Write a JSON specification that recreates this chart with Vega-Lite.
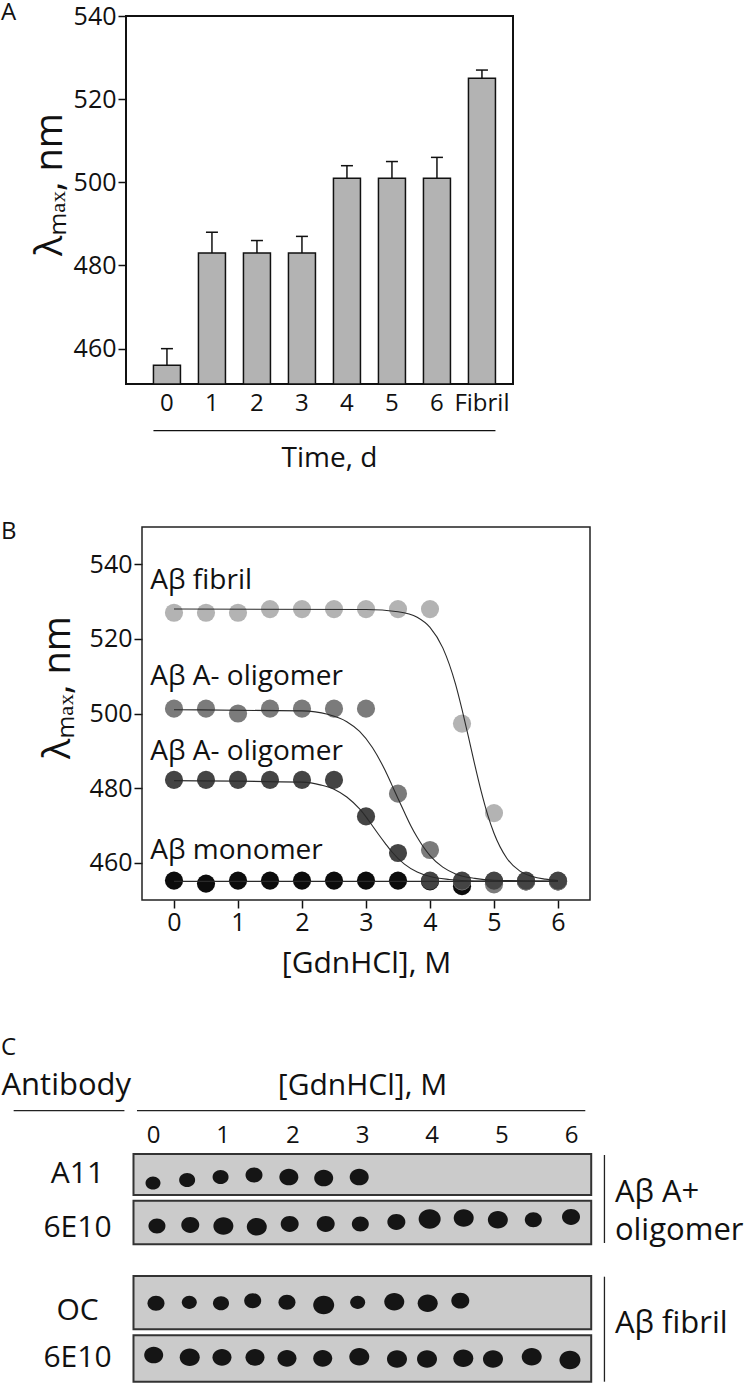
{
  "$schema": "https://vega.github.io/schema/vega-lite/v6.json",
  "background": "white",
  "padding": 0,
  "spacing": 47,
  "config": {
    "font": "Open Sans",
    "view": {"stroke": "#111", "strokeWidth": 1.5},
    "axis": {"grid": false, "labelColor": "#111", "titleColor": "#111", "tickColor": "#111", "domainColor": "#111", "labelFont": "Open Sans", "titleFont": "Open Sans", "titleFontWeight": "normal"},
    "title": {"fontWeight": "normal", "color": "#111", "font": "Open Sans"}
  },
  "datasets": {
    "panelA": [
      {"day": "0", "lambda": 456, "upper": 460},
      {"day": "1", "lambda": 483, "upper": 488},
      {"day": "2", "lambda": 483, "upper": 486},
      {"day": "3", "lambda": 483, "upper": 487},
      {"day": "4", "lambda": 501, "upper": 504},
      {"day": "5", "lambda": 501, "upper": 505},
      {"day": "6", "lambda": 501, "upper": 506},
      {"day": "Fibril", "lambda": 525, "upper": 527}
    ],
    "panelAline": [{"from": "0", "to": "Fibril", "level": 440.3}],
    "panelBframe": [{"conc": -0.5, "conc2": 6.5, "lambda": 450, "lambda2": 550}],
    "panelBpts": [
      {"sample": "monomer", "conc": 0, "lambda": 455.2}, {"sample": "monomer", "conc": 0.5, "lambda": 454.4}, {"sample": "monomer", "conc": 1, "lambda": 455.2}, {"sample": "monomer", "conc": 1.5, "lambda": 455.2}, {"sample": "monomer", "conc": 2, "lambda": 455.2}, {"sample": "monomer", "conc": 2.5, "lambda": 455.2}, {"sample": "monomer", "conc": 3, "lambda": 455.2}, {"sample": "monomer", "conc": 3.5, "lambda": 455.2}, {"sample": "monomer", "conc": 4, "lambda": 455}, {"sample": "monomer", "conc": 4.5, "lambda": 453.7}, {"sample": "monomer", "conc": 5, "lambda": 455}, {"sample": "monomer", "conc": 5.5, "lambda": 455}, {"sample": "monomer", "conc": 6, "lambda": 455},
      {"sample": "fibril", "conc": 0, "lambda": 527}, {"sample": "fibril", "conc": 0.5, "lambda": 527}, {"sample": "fibril", "conc": 1, "lambda": 527}, {"sample": "fibril", "conc": 1.5, "lambda": 528}, {"sample": "fibril", "conc": 2, "lambda": 528}, {"sample": "fibril", "conc": 2.5, "lambda": 528}, {"sample": "fibril", "conc": 3, "lambda": 528}, {"sample": "fibril", "conc": 3.5, "lambda": 528}, {"sample": "fibril", "conc": 4, "lambda": 528}, {"sample": "fibril", "conc": 4.5, "lambda": 497.3}, {"sample": "fibril", "conc": 5, "lambda": 473.3}, {"sample": "fibril", "conc": 5.5, "lambda": 455}, {"sample": "fibril", "conc": 6, "lambda": 455},
      {"sample": "oligomer501", "conc": 0, "lambda": 501.3}, {"sample": "oligomer501", "conc": 0.5, "lambda": 501.3}, {"sample": "oligomer501", "conc": 1, "lambda": 500}, {"sample": "oligomer501", "conc": 1.5, "lambda": 501.3}, {"sample": "oligomer501", "conc": 2, "lambda": 501.3}, {"sample": "oligomer501", "conc": 2.5, "lambda": 501.3}, {"sample": "oligomer501", "conc": 3, "lambda": 501.3}, {"sample": "oligomer501", "conc": 3.5, "lambda": 478.5}, {"sample": "oligomer501", "conc": 4, "lambda": 463.4}, {"sample": "oligomer501", "conc": 4.5, "lambda": 455}, {"sample": "oligomer501", "conc": 5, "lambda": 454.2}, {"sample": "oligomer501", "conc": 5.5, "lambda": 455}, {"sample": "oligomer501", "conc": 6, "lambda": 455},
      {"sample": "oligomer482", "conc": 0, "lambda": 482.2}, {"sample": "oligomer482", "conc": 0.5, "lambda": 482.2}, {"sample": "oligomer482", "conc": 1, "lambda": 482.2}, {"sample": "oligomer482", "conc": 1.5, "lambda": 482.2}, {"sample": "oligomer482", "conc": 2, "lambda": 482.2}, {"sample": "oligomer482", "conc": 2.5, "lambda": 482.2}, {"sample": "oligomer482", "conc": 3, "lambda": 472.4}, {"sample": "oligomer482", "conc": 3.5, "lambda": 462.6}, {"sample": "oligomer482", "conc": 4, "lambda": 455.2}, {"sample": "oligomer482", "conc": 4.5, "lambda": 455.2}, {"sample": "oligomer482", "conc": 5, "lambda": 455.2}, {"sample": "oligomer482", "conc": 5.5, "lambda": 455.2}, {"sample": "oligomer482", "conc": 6, "lambda": 455.2}
    ],
    "panelBfit": [
      {"sample": "fibril", "conc": 0, "lambda": 528}, {"sample": "fibril", "conc": 3, "lambda": 527.9}, {"sample": "fibril", "conc": 3.5, "lambda": 527.3}, {"sample": "fibril", "conc": 3.8, "lambda": 525.8}, {"sample": "fibril", "conc": 4.0, "lambda": 523.1}, {"sample": "fibril", "conc": 4.2, "lambda": 517.6}, {"sample": "fibril", "conc": 4.4, "lambda": 507.8}, {"sample": "fibril", "conc": 4.5, "lambda": 501.1}, {"sample": "fibril", "conc": 4.6, "lambda": 493.8}, {"sample": "fibril", "conc": 4.7, "lambda": 486.2}, {"sample": "fibril", "conc": 4.8, "lambda": 479.1}, {"sample": "fibril", "conc": 4.9, "lambda": 472.9}, {"sample": "fibril", "conc": 5.0, "lambda": 467.9}, {"sample": "fibril", "conc": 5.2, "lambda": 461.2}, {"sample": "fibril", "conc": 5.4, "lambda": 457.8}, {"sample": "fibril", "conc": 5.6, "lambda": 456.3}, {"sample": "fibril", "conc": 5.8, "lambda": 455.6}, {"sample": "fibril", "conc": 6.0, "lambda": 455.2},
      {"sample": "oligomer501", "conc": 0, "lambda": 501}, {"sample": "oligomer501", "conc": 2, "lambda": 500.7}, {"sample": "oligomer501", "conc": 2.4, "lambda": 499.8}, {"sample": "oligomer501", "conc": 2.7, "lambda": 497.8}, {"sample": "oligomer501", "conc": 2.9, "lambda": 495.2}, {"sample": "oligomer501", "conc": 3.1, "lambda": 490.9}, {"sample": "oligomer501", "conc": 3.3, "lambda": 484.7}, {"sample": "oligomer501", "conc": 3.4, "lambda": 481.0}, {"sample": "oligomer501", "conc": 3.5, "lambda": 477.2}, {"sample": "oligomer501", "conc": 3.6, "lambda": 473.5}, {"sample": "oligomer501", "conc": 3.7, "lambda": 469.9}, {"sample": "oligomer501", "conc": 3.8, "lambda": 466.8}, {"sample": "oligomer501", "conc": 4.0, "lambda": 461.9}, {"sample": "oligomer501", "conc": 4.2, "lambda": 458.8}, {"sample": "oligomer501", "conc": 4.4, "lambda": 457.0}, {"sample": "oligomer501", "conc": 4.7, "lambda": 455.8}, {"sample": "oligomer501", "conc": 5.0, "lambda": 455.3}, {"sample": "oligomer501", "conc": 6.0, "lambda": 455.0},
      {"sample": "oligomer482", "conc": 0, "lambda": 482}, {"sample": "oligomer482", "conc": 2, "lambda": 481.6}, {"sample": "oligomer482", "conc": 2.3, "lambda": 480.8}, {"sample": "oligomer482", "conc": 2.5, "lambda": 479.7}, {"sample": "oligomer482", "conc": 2.7, "lambda": 477.6}, {"sample": "oligomer482", "conc": 2.9, "lambda": 474.4}, {"sample": "oligomer482", "conc": 3.0, "lambda": 472.3}, {"sample": "oligomer482", "conc": 3.1, "lambda": 469.9}, {"sample": "oligomer482", "conc": 3.2, "lambda": 467.5}, {"sample": "oligomer482", "conc": 3.3, "lambda": 465.2}, {"sample": "oligomer482", "conc": 3.4, "lambda": 463.0}, {"sample": "oligomer482", "conc": 3.6, "lambda": 459.6}, {"sample": "oligomer482", "conc": 3.8, "lambda": 457.5}, {"sample": "oligomer482", "conc": 4.0, "lambda": 456.3}, {"sample": "oligomer482", "conc": 4.3, "lambda": 455.5}, {"sample": "oligomer482", "conc": 4.7, "lambda": 455.1}, {"sample": "oligomer482", "conc": 6.0, "lambda": 455.0},
      {"sample": "monomer", "conc": 0, "lambda": 455}, {"sample": "monomer", "conc": 6, "lambda": 455}
    ],
    "panelBlab": [
      {"label": "Aβ fibril", "conc": -0.37, "lambda": 533.3},
      {"label": "Aβ A- oligomer", "conc": -0.37, "lambda": 507.6},
      {"label": "Aβ A- oligomer", "conc": -0.37, "lambda": 487.6},
      {"label": "Aβ monomer", "conc": -0.37, "lambda": 460.9}
    ],
    "panelCbox": [
      {"lane": "A11", "top": 1, "bottom": 42, "left": -0.28, "right": 6.29},
      {"lane": "6E10 (A+ oligomer)", "top": 47.7, "bottom": 91.3, "left": -0.28, "right": 6.29},
      {"lane": "OC", "top": 123, "bottom": 176.3, "left": -0.28, "right": 6.29},
      {"lane": "6E10 (fibril)", "top": 182.3, "bottom": 228.7, "left": -0.28, "right": 6.29}
    ],
    "panelCdots": [
      {"lane": "A11", "conc": 0.0, "pos": 30, "spot": 225}, {"lane": "A11", "conc": 0.49, "pos": 27, "spot": 256}, {"lane": "A11", "conc": 0.97, "pos": 24, "spot": 256}, {"lane": "A11", "conc": 1.45, "pos": 22, "spot": 289}, {"lane": "A11", "conc": 1.95, "pos": 24, "spot": 361}, {"lane": "A11", "conc": 2.45, "pos": 25, "spot": 361}, {"lane": "A11", "conc": 2.96, "pos": 24, "spot": 361},
      {"lane": "6E10 (A+ oligomer)", "conc": 0.057, "pos": 73, "spot": 289}, {"lane": "6E10 (A+ oligomer)", "conc": 0.535, "pos": 72, "spot": 324}, {"lane": "6E10 (A+ oligomer)", "conc": 1.01, "pos": 73, "spot": 400}, {"lane": "6E10 (A+ oligomer)", "conc": 1.49, "pos": 73.7, "spot": 400}, {"lane": "6E10 (A+ oligomer)", "conc": 1.962, "pos": 71, "spot": 324}, {"lane": "6E10 (A+ oligomer)", "conc": 2.479, "pos": 71, "spot": 324}, {"lane": "6E10 (A+ oligomer)", "conc": 2.976, "pos": 71, "spot": 289}, {"lane": "6E10 (A+ oligomer)", "conc": 3.493, "pos": 69, "spot": 324}, {"lane": "6E10 (A+ oligomer)", "conc": 3.971, "pos": 66, "spot": 484}, {"lane": "6E10 (A+ oligomer)", "conc": 4.46, "pos": 65, "spot": 400}, {"lane": "6E10 (A+ oligomer)", "conc": 4.95, "pos": 66.7, "spot": 400}, {"lane": "6E10 (A+ oligomer)", "conc": 5.459, "pos": 66.7, "spot": 289}, {"lane": "6E10 (A+ oligomer)", "conc": 6.0, "pos": 64, "spot": 324},
      {"lane": "OC", "conc": 0.043, "pos": 150.3, "spot": 289}, {"lane": "OC", "conc": 0.521, "pos": 149.3, "spot": 225}, {"lane": "OC", "conc": 0.976, "pos": 150.3, "spot": 256}, {"lane": "OC", "conc": 1.431, "pos": 147.7, "spot": 289}, {"lane": "OC", "conc": 1.923, "pos": 149.3, "spot": 289}, {"lane": "OC", "conc": 2.45, "pos": 152, "spot": 441}, {"lane": "OC", "conc": 2.938, "pos": 149.3, "spot": 225}, {"lane": "OC", "conc": 3.463, "pos": 148.7, "spot": 400}, {"lane": "OC", "conc": 3.943, "pos": 150.3, "spot": 400}, {"lane": "OC", "conc": 4.411, "pos": 147.7, "spot": 324},
      {"lane": "6E10 (fibril)", "conc": 0.01, "pos": 202, "spot": 361}, {"lane": "6E10 (fibril)", "conc": 0.527, "pos": 204.3, "spot": 400}, {"lane": "6E10 (fibril)", "conc": 0.99, "pos": 204.3, "spot": 361}, {"lane": "6E10 (fibril)", "conc": 1.464, "pos": 204.3, "spot": 361}, {"lane": "6E10 (fibril)", "conc": 1.923, "pos": 205.3, "spot": 361}, {"lane": "6E10 (fibril)", "conc": 2.436, "pos": 205.3, "spot": 361}, {"lane": "6E10 (fibril)", "conc": 2.961, "pos": 203.7, "spot": 400}, {"lane": "6E10 (fibril)", "conc": 3.502, "pos": 206, "spot": 400}, {"lane": "6E10 (fibril)", "conc": 3.933, "pos": 206, "spot": 400}, {"lane": "6E10 (fibril)", "conc": 4.454, "pos": 205.3, "spot": 400}, {"lane": "6E10 (fibril)", "conc": 4.88, "pos": 206, "spot": 400}, {"lane": "6E10 (fibril)", "conc": 5.436, "pos": 203.7, "spot": 400}, {"lane": "6E10 (fibril)", "conc": 5.985, "pos": 207, "spot": 441}
    ],
    "panelCrules": [
      {"x1": 6.48, "x2": 6.48, "y1": 2, "y2": 90},
      {"x1": 6.48, "x2": 6.48, "y1": 123.7, "y2": 228.7},
      {"x1": -2.0, "x2": -0.41, "y1": -42.3, "y2": -42.3},
      {"x1": -0.23, "x2": 6.205, "y1": -42.3, "y2": -42.3}
    ],
    "panelCside": [
      {"label": "Aβ A+", "conc": 6.63, "pos": 48.7},
      {"label": "oligomer", "conc": 6.63, "pos": 87},
      {"label": "Aβ fibril", "conc": 6.63, "pos": 180}
    ]
  },
  "vconcat": [
    {
      "width": 387,
      "height": 368,
      "view": {"stroke": "#111", "strokeWidth": 2},
      "title": {"text": "A", "anchor": "start", "frame": "group", "dx": -125, "dy": 40, "offset": 0, "fontSize": 24, "baseline": "alphabetic"},
      "layer": [
        {
          "data": {"name": "panelA"},
          "mark": {"type": "bar", "fill": "#b3b3b3", "stroke": "#111", "strokeWidth": 1.5},
          "encoding": {
            "x": {"field": "day", "type": "nominal", "sort": null,
                  "scale": {"domain": ["0", "1", "2", "3", "4", "5", "6", "Fibril"], "paddingInner": 0.4, "paddingOuter": 0.5, "align": 0.61},
                  "axis": {"title": "Time, d", "ticks": false, "tickSize": 0, "domain": false, "labelAngle": 0, "labelFontSize": 24, "labelPadding": 7, "titleFontSize": 28, "titleBaseline": "alphabetic", "titleY": 82, "titleX": 203}},
            "y": {"field": "lambda", "type": "quantitative",
                  "scale": {"domain": [451.5, 540], "zero": false, "nice": false},
                  "axis": {"values": [460, 480, 500, 520, 540], "tickSize": 8, "tickWidth": 1.5, "labelFontSize": 25, "labelPadding": 2, "domain": false, "title": "λₘₐₓ, nm", "titleFontSize": 38, "titleAngle": -90, "titleAlign": "center", "titleBaseline": "alphabetic", "titleX": -65, "titleY": 168}},
            "y2": {"datum": 451.5}
          }
        },
        {
          "data": {"name": "panelA"},
          "mark": {"type": "rule", "stroke": "#111", "strokeWidth": 1.5},
          "encoding": {
            "x": {"field": "day", "type": "nominal", "sort": null, "scale": {"domain": ["0", "1", "2", "3", "4", "5", "6", "Fibril"], "paddingInner": 0.4, "paddingOuter": 0.5, "align": 0.61}, "axis": {"title": "Time, d", "ticks": false, "tickSize": 0, "domain": false, "labelAngle": 0, "labelFontSize": 24, "labelPadding": 7, "titleFontSize": 28, "titleBaseline": "alphabetic", "titleY": 82, "titleX": 203}},
            "y": {"field": "lambda", "type": "quantitative", "scale": {"domain": [451.5, 540], "zero": false, "nice": false}, "axis": {"values": [460, 480, 500, 520, 540], "tickSize": 8, "tickWidth": 1.5, "labelFontSize": 25, "labelPadding": 2, "domain": false, "title": "λₘₐₓ, nm", "titleFontSize": 38, "titleAngle": -90, "titleAlign": "center", "titleBaseline": "alphabetic", "titleX": -65, "titleY": 168}},
            "y2": {"field": "upper"}
          }
        },
        {
          "data": {"name": "panelA"},
          "mark": {"type": "tick", "color": "#111", "thickness": 1.5, "size": 12, "opacity": 1},
          "encoding": {
            "x": {"field": "day", "type": "nominal", "sort": null, "scale": {"domain": ["0", "1", "2", "3", "4", "5", "6", "Fibril"], "paddingInner": 0.4, "paddingOuter": 0.5, "align": 0.61}, "axis": {"title": "Time, d", "ticks": false, "tickSize": 0, "domain": false, "labelAngle": 0, "labelFontSize": 24, "labelPadding": 7, "titleFontSize": 28, "titleBaseline": "alphabetic", "titleY": 82, "titleX": 203}},
            "y": {"field": "upper", "type": "quantitative", "scale": {"domain": [451.5, 540], "zero": false, "nice": false}, "axis": {"values": [460, 480, 500, 520, 540], "tickSize": 8, "tickWidth": 1.5, "labelFontSize": 25, "labelPadding": 2, "domain": false, "title": "λₘₐₓ, nm", "titleFontSize": 38, "titleAngle": -90, "titleAlign": "center", "titleBaseline": "alphabetic", "titleX": -65, "titleY": 168}}
          }
        },
        {
          "data": {"name": "panelAline"},
          "mark": {"type": "rule", "stroke": "#111", "strokeWidth": 1.2},
          "encoding": {
            "x": {"field": "from", "type": "nominal", "bandPosition": 0, "scale": {"domain": ["0", "1", "2", "3", "4", "5", "6", "Fibril"], "paddingInner": 0.4, "paddingOuter": 0.5, "align": 0.61}, "axis": {"title": "Time, d", "ticks": false, "tickSize": 0, "domain": false, "labelAngle": 0, "labelFontSize": 24, "labelPadding": 7, "titleFontSize": 28, "titleBaseline": "alphabetic", "titleY": 82, "titleX": 203}},
            "x2": {"field": "to", "bandPosition": 1},
            "y": {"field": "level", "type": "quantitative", "scale": {"domain": [451.5, 540], "zero": false, "nice": false}, "axis": {"values": [460, 480, 500, 520, 540], "tickSize": 8, "tickWidth": 1.5, "labelFontSize": 25, "labelPadding": 2, "domain": false, "title": "λₘₐₓ, nm", "titleFontSize": 38, "titleAngle": -90, "titleAlign": "center", "titleBaseline": "alphabetic", "titleX": -65, "titleY": 168}}
          }
        }
      ]
    },
    {
      "width": 464,
      "height": 373,
      "view": {"stroke": null},
      "title": {"text": "B", "anchor": "start", "frame": "group", "dx": -125, "dy": 37, "offset": 0, "fontSize": 24, "baseline": "alphabetic"},
      "encoding": {
        "x": {"field": "conc", "type": "quantitative",
              "scale": {"domain": [-0.75, 6.5], "nice": false, "zero": false},
              "axis": {"values": [0, 1, 2, 3, 4, 5, 6], "tickSize": 8, "tickWidth": 1.5, "domain": false, "labelFontSize": 25, "labelPadding": 2, "title": "[GdnHCl], M", "titleFontSize": 30, "titleBaseline": "alphabetic", "titleY": 72, "titleX": 240}},
        "y": {"field": "lambda", "type": "quantitative",
              "scale": {"domain": [450, 550], "nice": false, "zero": false},
              "axis": {"offset": -16, "values": [460, 480, 500, 520, 540], "tickSize": 8, "tickWidth": 1.5, "domain": false, "labelFontSize": 25, "labelPadding": 2, "title": "λₘₐₓ, nm", "titleFontSize": 38, "titleAngle": -90, "titleAlign": "center", "titleBaseline": "alphabetic", "titleX": -73, "titleY": 160}}
      },
      "layer": [
        {
          "data": {"name": "panelBframe"},
          "mark": {"type": "rect", "fillOpacity": 0, "fill": "white", "stroke": "#222", "strokeWidth": 1.5},
          "encoding": {"x2": {"field": "conc2"}, "y2": {"field": "lambda2"}}
        },
        {
          "data": {"name": "panelBpts"},
          "mark": {"type": "point", "filled": true, "size": 330, "opacity": 1, "strokeWidth": 0},
          "encoding": {
            "color": {"field": "sample", "type": "nominal", "legend": null,
                      "scale": {"domain": ["monomer", "fibril", "oligomer501", "oligomer482"], "range": ["#0c0c0c", "#b3b3b3", "#7b7b7b", "#444444"]}}
          }
        },
        {
          "data": {"name": "panelBfit"},
          "mark": {"type": "line", "stroke": "#2a2a2a", "strokeWidth": 1.1, "interpolate": "monotone"},
          "encoding": {"detail": {"field": "sample", "type": "nominal"}}
        },
        {
          "data": {"name": "panelBlab"},
          "mark": {"type": "text", "align": "left", "baseline": "alphabetic", "fontSize": 28, "color": "#111"},
          "encoding": {"text": {"field": "label", "type": "nominal"}}
        }
      ]
    },
    {
      "width": 465,
      "height": 229,
      "view": {"stroke": null},
      "title": {"text": ["", "C"], "anchor": "start", "frame": "group", "dx": -125, "dy": 10, "offset": 0, "fontSize": 24, "lineHeight": 11, "baseline": "alphabetic"},
      "layer": [
        {
          "data": {"name": "panelCbox"},
          "mark": {"type": "rect", "fill": "#cbcbcb", "stroke": "#333", "strokeWidth": 2},
          "encoding": {
            "x": {"field": "left", "type": "quantitative", "scale": {"domain": [-0.3875, 6.287], "nice": false, "zero": false},
                  "axis": {"orient": "top", "values": [0, 1, 2, 3, 4, 5, 6], "format": ".0f", "ticks": false, "tickSize": 0, "domain": false, "labelFontSize": 24, "labelPadding": 11, "labelBaseline": "alphabetic", "title": "[GdnHCl], M", "titleFontSize": 30, "titleBaseline": "alphabetic", "titleX": 236, "titleY": -59, "titleAlign": "center"}},
            "x2": {"field": "right"},
            "y": {"field": "top", "type": "quantitative", "scale": {"domain": [0, 229], "reverse": true, "nice": false, "zero": false},
                  "axis": {"values": [20, 74, 157, 204], "labelExpr": "datum.value == 20 ? 'A11' : datum.value == 157 ? 'OC' : '6E10'", "ticks": false, "tickSize": 0, "domain": false, "labelFontSize": 30, "labelAlign": "center", "labelBaseline": "middle", "labelPadding": 49, "title": "Antibody", "titleFontSize": 31, "titleAngle": 0, "titleAlign": "left", "titleBaseline": "alphabetic", "titleX": -125, "titleY": -59}},
            "y2": {"field": "bottom"}
          }
        },
        {
          "data": {"name": "panelCdots"},
          "mark": {"type": "point", "filled": true, "opacity": 1, "color": "#151515", "strokeWidth": 0, "shape": "M-1,0A1,0.88,0,1,1,1,0A1,0.88,0,1,1,-1,0Z"},
          "encoding": {
            "x": {"field": "conc", "type": "quantitative", "scale": {"domain": [-0.3875, 6.287], "nice": false, "zero": false}},
            "y": {"field": "pos", "type": "quantitative", "scale": {"domain": [0, 229], "reverse": true, "nice": false, "zero": false}},
            "size": {"field": "spot", "type": "quantitative", "legend": null, "scale": {"type": "linear", "domain": [0, 500], "range": [0, 500], "zero": true}}
          }
        },
        {
          "data": {"name": "panelCrules"},
          "mark": {"type": "rule", "stroke": "#222", "strokeWidth": 1.3},
          "encoding": {
            "x": {"field": "x1", "type": "quantitative", "scale": {"domain": [-0.3875, 6.287], "nice": false, "zero": false}},
            "x2": {"field": "x2"},
            "y": {"field": "y1", "type": "quantitative", "scale": {"domain": [0, 229], "reverse": true, "nice": false, "zero": false}},
            "y2": {"field": "y2"}
          }
        },
        {
          "data": {"name": "panelCside"},
          "mark": {"type": "text", "align": "left", "baseline": "alphabetic", "fontSize": 31, "color": "#111"},
          "encoding": {
            "x": {"field": "conc", "type": "quantitative", "scale": {"domain": [-0.3875, 6.287], "nice": false, "zero": false}},
            "y": {"field": "pos", "type": "quantitative", "scale": {"domain": [0, 229], "reverse": true, "nice": false, "zero": false}},
            "text": {"field": "label", "type": "nominal"}
          }
        }
      ]
    }
  ]
}
